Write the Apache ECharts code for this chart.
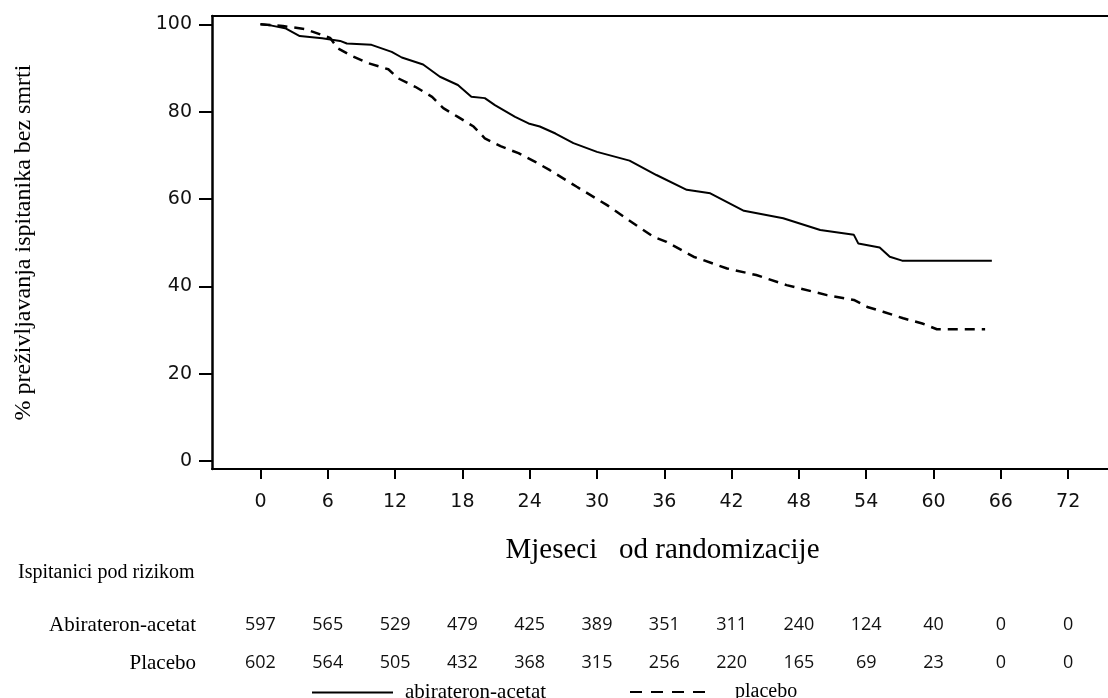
<!DOCTYPE html>
<html><head><meta charset="utf-8">
<script src="https://cdn.jsdelivr.net/npm/echarts@6/dist/echarts.min.js"></script>
<style>html,body{margin:0;padding:0;background:#fff}#c{width:1108px;height:698px}</style>
</head><body><div id="c"></div>
<script>
const tickMonths = [0,6,12,18,24,30,36,42,48,54,60,66,72];
const yTicks = [0,20,40,60,80,100];
const abiRisk = [597,565,529,479,425,389,351,311,240,124,40,0,0];
const placeboRisk = [602,564,505,432,368,315,256,220,165,69,23,0,0];

const abiMonths = [0,1.0,2.2,3.5,5.5,7.1,7.7,9.9,11.7,12.6,14.5,16.0,17.6,18.8,20.0,20.9,22.7,23.9,24.9,26.3,27.9,30.0,32.9,35.3,38.0,40.1,43.1,46.6,49.9,52.9,53.3,55.2,56.1,57.2,65.2];
const abiSurv   = [100,99.7,99.1,97.3,96.8,96.2,95.6,95.3,93.7,92.4,90.8,88.0,86.1,83.4,83.1,81.5,78.8,77.3,76.6,75.0,72.8,70.8,68.8,65.5,62.1,61.3,57.3,55.6,52.9,51.8,49.8,48.9,46.8,45.9,45.9];

const plMonths = [0,2.0,4.0,6.2,6.9,8.1,9.6,11.4,12.3,13.8,15.3,16.3,17.6,19.0,20.0,21.4,23.0,24.5,25.8,28.2,30.9,33.5,35.0,36.2,38.6,41.6,44.2,46.9,50.5,52.9,54.1,55.5,57.3,59.0,60.3,64.6];
const plSurv   = [100,99.6,98.9,96.9,94.5,92.8,91.1,89.7,87.6,85.7,83.4,80.8,78.8,76.6,73.9,72.1,70.5,68.5,66.6,62.8,58.6,54.0,51.4,50.2,46.8,44.1,42.6,40.3,38.0,36.9,35.3,34.2,32.7,31.5,30.2,30.2];

const serif = 'Liberation Serif';
const X_MIN = -4.32, X_MAX = 76;

const chart = echarts.init(document.getElementById('c'), null, {renderer:'canvas'});

function riskAxis(name, values, offset) {
  return {
    type:'value', min:X_MIN, max:X_MAX, position:'bottom', offset:offset, gridIndex:0,
    axisLine:{show:false, onZero:false}, axisTick:{show:false}, splitLine:{show:false},
    axisLabel:{show:true, customValues:tickMonths, margin:0, verticalAlign:'middle',
      fontFamily:'Open Sans', fontSize:18, color:'#111',
      formatter:function(v){ const i = tickMonths.indexOf(Math.round(v)); return i>=0 ? String(values[i]) : ''; }},
    name:name, nameLocation:'start', nameGap:16,
    nameTextStyle:{fontFamily:serif, fontSize:21, color:'#000', verticalAlign:'middle'}
  };
}

chart.setOption({
  animation:false,
  backgroundColor:'#fff',
  grid:{left:212, top:16, right:-5, bottom:229, containLabel:false, outerBoundsMode:'none'},
  legend:[
    {data:['abirateron-acetat'], icon:'rect', left:307, top:677, itemWidth:81, itemHeight:2, itemGap:0,
     textStyle:{fontFamily:serif, fontSize:21, color:'#000', padding:[0,0,0,7]}, selectedMode:false},
    {data:['placebo'], icon:'path://M0,0h12v2h-12z M21,0h12v2h-12z M42,0h12v2h-12z M63,0h12v2h-12z',
     left:625, top:677, itemWidth:75, itemHeight:2.5, itemGap:0,
     textStyle:{fontFamily:serif, fontSize:20, color:'#000', padding:[0,0,0,25]}, selectedMode:false}
  ],
  graphic:[
    {type:'text', left:18, top:563, silent:true,
     style:{text:'Ispitanici pod rizikom', fontFamily:serif, fontSize:20, fill:'#000'}}
  ],
  xAxis:[
    {type:'value', min:X_MIN, max:X_MAX, position:'bottom', gridIndex:0,
     axisLine:{show:true, onZero:false, lineStyle:{color:'#000', width:2}},
     axisTick:{show:true, customValues:tickMonths, length:10, lineStyle:{color:'#000', width:2}},
     axisLabel:{show:true, customValues:tickMonths, margin:24, fontFamily:'DejaVu Sans', fontSize:19, color:'#111'},
     splitLine:{show:false},
     name:'Mjeseci   od randomizacije', nameLocation:'middle', nameGap:67,
     nameTextStyle:{fontFamily:serif, fontSize:29, color:'#000'}},
    riskAxis('Abirateron-acetat', abiRisk, 156),
    riskAxis('Placebo', placeboRisk, 194),
    {type:'value', min:X_MIN, max:X_MAX, position:'top', gridIndex:0,
     axisLine:{show:true, onZero:false, lineStyle:{color:'#000', width:2}},
     axisTick:{show:false}, axisLabel:{show:false}, splitLine:{show:false}}
  ],
  yAxis:[
    {type:'value', min:-1.8, max:101.9, gridIndex:0,
     axisLine:{show:true, onZero:false, lineStyle:{color:'#000', width:2.5}},
     axisTick:{show:true, customValues:yTicks, length:13, lineStyle:{color:'#000', width:2}},
     axisLabel:{show:true, customValues:yTicks, margin:20, fontFamily:'DejaVu Sans', fontSize:19, color:'#111'},
     splitLine:{show:false},
     name:'% preživljavanja ispitanika bez smrti', nameLocation:'middle', nameGap:176, nameRotate:90,
     nameTextStyle:{fontFamily:serif, fontSize:24, color:'#000'}}
  ],
  series:[
    {name:'abirateron-acetat', type:'line', xAxisIndex:0, yAxisIndex:0, symbol:'none', silent:true,
     data:abiMonths.map((m,i)=>[m, abiSurv[i]]),
     lineStyle:{color:'#000', width:2, type:'solid'}, itemStyle:{color:'#000'}},
    {name:'placebo', type:'line', xAxisIndex:0, yAxisIndex:0, symbol:'none', silent:true,
     data:plMonths.map((m,i)=>[m, plSurv[i]]),
     lineStyle:{color:'#000', width:2.5, type:[10,7]}, itemStyle:{color:'#000'}}
  ]
});
</script>
</body></html>
